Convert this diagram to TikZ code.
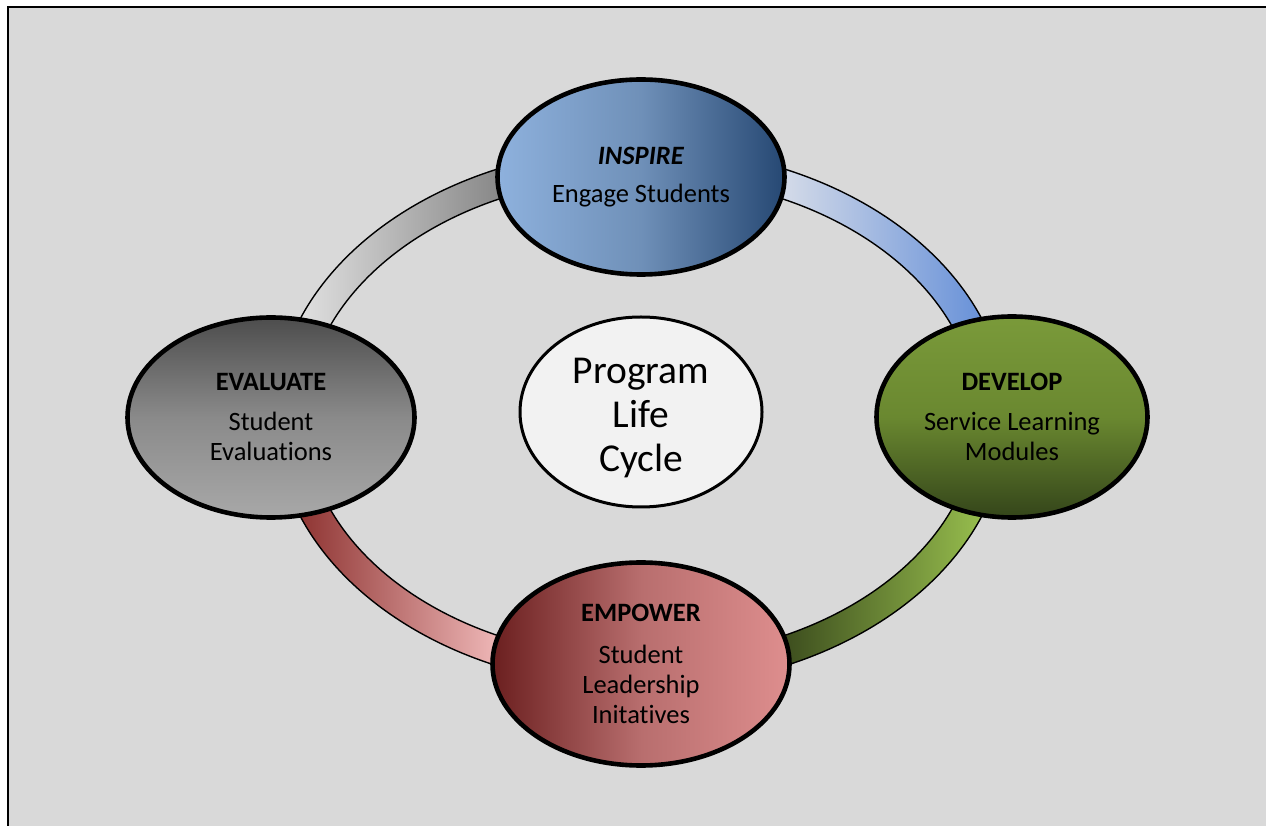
\documentclass[tikz,border=0pt]{standalone}
\usepackage{fontspec}
\setmainfont{Carlito}[Ligatures={NoCommon}]
\usetikzlibrary{shapes.geometric}
\definecolor{bgc}{HTML}{D9D9D9}
\definecolor{tlA}{HTML}{E0E0E0}\definecolor{tlB}{HTML}{888888}
\definecolor{trA}{HTML}{D3DAE8}\definecolor{trB}{HTML}{6690D8}
\definecolor{blA}{HTML}{8F3533}\definecolor{blB}{HTML}{EDB5B5}
\definecolor{brA}{HTML}{3D4E1E}\definecolor{brB}{HTML}{98BF4E}
\definecolor{insA}{HTML}{8EB1DD}\definecolor{insM}{HTML}{6F90B8}\definecolor{insB}{HTML}{264873}
\definecolor{evaA}{HTML}{4D4D4D}\definecolor{evaM}{HTML}{8A8A8A}\definecolor{evaB}{HTML}{A8A8A8}
\definecolor{devA}{HTML}{7A9A3A}\definecolor{devM}{HTML}{6A8830}\definecolor{devB}{HTML}{34451A}
\definecolor{empA}{HTML}{6B1F1F}\definecolor{empM}{HTML}{B86E6E}\definecolor{empB}{HTML}{DE8E8E}
\definecolor{ctr}{HTML}{F2F2F2}
\begin{document}
\begin{tikzpicture}[x=1pt,y=1pt,
  phase/.style={ellipse, draw=black, line width=4.6pt, inner sep=0pt, align=center,
    font=\fontsize{26.5}{30}\selectfont},
  ringline/.style={draw=black, line width=1.4pt}]
\useasboundingbox (0,0) rectangle (1266,825);
\fill[white] (0,0) rectangle (1266,825);
\fill[bgc] (8,-10) rectangle (1280,818);
\draw[line width=2.5pt] (8,-10) -- (8,818) -- (1280,818);
\coordinate (rc) at (641,407.5);
% top-left segment
\begin{scope}
\clip (641,677.5) arc[start angle=90,end angle=180,x radius=366,y radius=270] -- (305,407.5) arc[start angle=180,end angle=90,x radius=336,y radius=241] -- cycle;
\fill[tlA] (250,380) rectangle (300,700);
\shade[left color=tlA,right color=tlB] (300,380) rectangle (500,700);
\fill[tlB] (500,380) rectangle (660,700);
\end{scope}
% top-right segment
\begin{scope}
\clip (1007,407.5) arc[start angle=0,end angle=90,x radius=366,y radius=270] -- (641,648.5) arc[start angle=90,end angle=0,x radius=336,y radius=241] -- cycle;
\fill[trA] (620,380) rectangle (785,700);
\shade[left color=trA,right color=trB] (785,380) rectangle (985,700);
\fill[trB] (985,380) rectangle (1030,700);
\end{scope}
% bottom-left segment
\begin{scope}
\clip (275,407.5) arc[start angle=180,end angle=270,x radius=366,y radius=270] -- (641,166.5) arc[start angle=270,end angle=180,x radius=336,y radius=241] -- cycle;
\fill[blA] (250,120) rectangle (300,430);
\shade[left color=blA,right color=blB] (300,120) rectangle (495,430);
\fill[blB] (495,120) rectangle (660,430);
\end{scope}
% bottom-right segment
\begin{scope}
\clip (641,137.5) arc[start angle=270,end angle=360,x radius=366,y radius=270] -- (977,407.5) arc[start angle=360,end angle=270,x radius=336,y radius=241] -- cycle;
\fill[brA] (620,120) rectangle (785,430);
\shade[left color=brA,right color=brB] (785,120) rectangle (985,430);
\fill[brB] (985,120) rectangle (1030,430);
\end{scope}
\draw[ringline] (rc) ellipse[x radius=366,y radius=270];
\draw[ringline] (rc) ellipse[x radius=336,y radius=241];
% phases
\node[phase, minimum width=287pt, minimum height=195pt,
  left color=insA, right color=insB, middle color=insM] (inspire) at (641,648)
  {\textbf{\textit{INSPIRE}}\\[8pt]Engage Students};
\node[phase, minimum width=287pt, minimum height=200pt,
  top color=evaA, bottom color=evaB, middle color=evaM] (evaluate) at (271,407.5)
  {\textbf{EVALUATE}\\[10pt]Student\\Evaluations};
\node[phase, minimum width=271pt, minimum height=201pt,
  top color=devA, bottom color=devB, middle color=devM] (develop) at (1012,408)
  {\textbf{DEVELOP}\\[10pt]Service Learning\\Modules};
\node[phase, minimum width=297pt, minimum height=203pt,
  left color=empA, right color=empB, middle color=empM] (empower) at (641,161)
  {\textbf{EMPOWER}\\[12pt]Student\\Leadership\\Initatives};
\node[ellipse, draw=black, line width=3pt, fill=ctr, minimum width=242pt, minimum height=190pt,
  inner sep=0pt] (center) at (641,413) {};
\node[align=center, inner sep=0pt, font=\fontsize{39.5}{44}\selectfont] (centertext) at (641,407)
  {Program\\Life\\Cycle};
\end{tikzpicture}
\end{document}
